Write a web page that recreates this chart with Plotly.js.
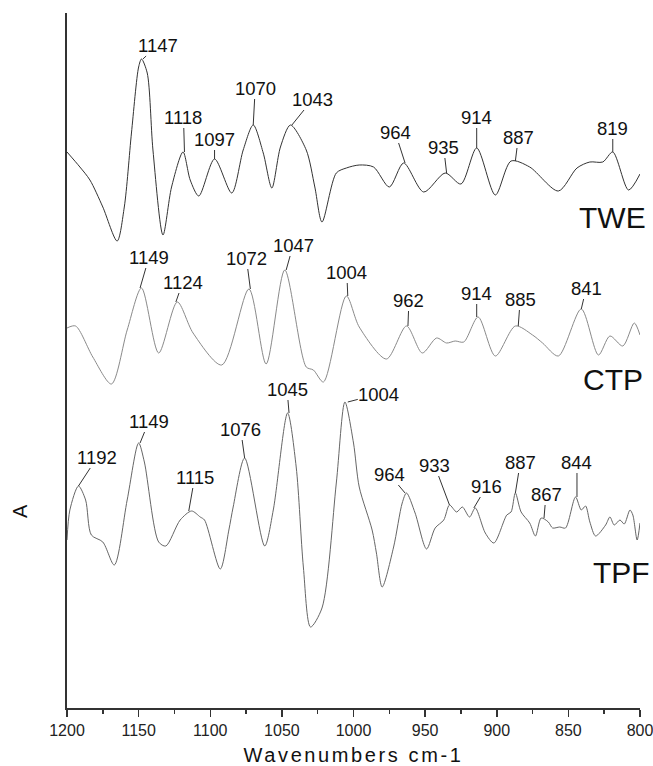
<!DOCTYPE html>
<html>
<head>
<meta charset="utf-8">
<script src="https://cdn.plot.ly/plotly-3.0.1.min.js"></script>
<style>
html,body{margin:0;padding:0;background:#fff;}
#chart{width:653px;height:766px;}
#chart .xtitle{letter-spacing:2.6px;}
</style>
</head>
<body>
<div id="chart"></div>
<script>
// ---- data (wavenumber, relative absorbance incl. stacking offset) ----
const twe_x = [1200,1191,1184,1175,1165,1160,1155,1150,1148,1144,1140,1133,1127,1119,1114,1108,1097,1085,1077,1070,1063,1057,1051,1044,1033,1027,1022,1012,1005,996,986,975,965,951,936,925,914,901,890,877,857,844,835,826,819,808,800];
const twe_y = [556,541,528,501,467,501,575,641,649,635,558,473,521,556,528,512,549,515,558,583,555,520,561,583,558,521,486,535,540,543,541,521,545,516,535,524,560,513,547,541,517,540,546,546,556,518,534];

const ctp_x = [1200,1194,1182,1169,1158,1148,1136,1123,1112,1092,1073,1061,1048,1033,1028,1021,1005,996,977,963,952,942,935,929,923,913,901,887,875,868,857,841,829,821,812,804,800];
const ctp_y = [380,382,351,324,378,420,355,406,375,343,419,344,438,341,338,326,412,381,349,382,355,370,365,367,366,391,352,382,373,365,352,399,353,372,362,385,373];

const tpf_x = [1200,1198,1192,1187,1183,1175,1167,1158,1150,1146,1136,1131,1121,1113,1107,1104,1093,1087,1084,1076,1062,1056,1046,1040,1035,1030,1022,1012,1006,1000,996,987,984,980,972,966,963,957,949,943,937,933,928,924,919,915,908,902,893,890,887,883,877,873,869,864,861,856,852,845,841,838,835,831,824,821,818,814,811,807,805,802,800];
const tpf_y = [168,198,222,208,173,166,143,208,265,246,166,162,188,197,191,188,139,178,201,250,162,198,295,241,141,81,100,225,306,265,221,178,155,121,161,205,215,195,159,180,188,203,196,201,191,200,175,165,193,196,215,196,185,172,190,186,180,181,180,211,198,202,186,172,183,191,183,188,184,198,193,168,185];

const series_names = ["TWE","CTP","TPF"];

// peak labels (wavenumbers)
const twe_peaks = [1147,1118,1097,1070,1043,964,935,914,887,819];
const ctp_peaks = [1149,1124,1072,1047,1004,962,914,885,841];
const tpf_peaks = [1192,1149,1115,1076,1045,1004,964,933,916,887,867,844];

const x_ticks = [1200,1150,1100,1050,1000,950,900,850,800];

// ---- label offsets (pixels, layout only) ----
const twe_off = [[15,-14],[-1,-35],[0,-20],[2,-37],[21,-26],[-10,-31],[-3,-26],[0,-31],[3,-24],[0,-24]];
const ctp_off = [[9,-31],[7,-20],[-4,-31],[7,-25],[-1,-24],[1,-26],[0,-24],[2,-27],[5,-21]];
const tpf_off = [[19,-29],[9,-22],[6,-34],[-4,-29],[-2,-24],[31,-8],[-16,-19],[-15,-40],[13,-22],[5,-31],[2,-24],[0,-35]];

function nearestY(xs, ys, x){
  let bi = 0, bd = Infinity;
  for (let i=0;i<xs.length;i++){ const d=Math.abs(xs[i]-x); if(d<bd){bd=d;bi=i;} }
  return ys[bi];
}

const FONT = "Liberation Sans, Arial, Helvetica, sans-serif";
const annotations = [];
function addPeaks(xs, ys, peaks, offs){
  peaks.forEach((p,i)=>{
    annotations.push({
      x:p, y:nearestY(xs,ys,p), xref:'x', yref:'y',
      text:String(p), showarrow:true, arrowhead:0, arrowwidth:1, arrowcolor:'#333',
      ax:offs[i][0], ay:offs[i][1], standoff:0, startstandoff:0, borderpad:0,
      font:{family:FONT,size:18.5,color:'#111'}
    });
  });
}
addPeaks(twe_x,twe_y,twe_peaks,twe_off);
addPeaks(ctp_x,ctp_y,ctp_peaks,ctp_off);
addPeaks(tpf_x,tpf_y,tpf_peaks,tpf_off);

// series name labels
const namePos = [[0.952,0.706],[0.953,0.472],[0.968,0.195]];
series_names.forEach((n,i)=>{
  annotations.push({x:namePos[i][0], y:namePos[i][1], xref:'paper', yref:'paper',
    text:n, showarrow:false, xanchor:'center', yanchor:'middle',
    font:{family:FONT,size:30,color:'#111'}});
});
// y-axis title "A"
annotations.push({x:-0.082, y:0.2835, xref:'paper', yref:'paper', text:'A', showarrow:false,
  textangle:-90, xanchor:'center', yanchor:'middle', font:{family:FONT,size:20,color:'#111'}});

const traces = [
  {x:twe_x, y:twe_y, name:series_names[0], mode:'lines', line:{color:'#333', width:1, shape:'spline', smoothing:0.8}},
  {x:ctp_x, y:ctp_y, name:series_names[1], mode:'lines', line:{color:'#8a8a8a', width:1, shape:'spline', smoothing:0.8}},
  {x:tpf_x, y:tpf_y, name:series_names[2], mode:'lines', line:{color:'#666', width:1, shape:'spline', smoothing:0.8}}
];

const layout = {
  width:653, height:766,
  margin:{l:67, r:13, t:13, b:58},
  paper_bgcolor:'#fff', plot_bgcolor:'#fff',
  showlegend:false,
  xaxis:{
    range:[1200,800], autorange:false,
    tickvals:x_ticks, ticktext:x_ticks.map(String),
    ticks:'outside', ticklen:7, tickwidth:1.5, tickcolor:'#333',
    ticklabeloverflow:'allow',
    minor:{dtick:25, tick0:800, ticks:'outside', ticklen:4, tickwidth:1.5, tickcolor:'#333', showgrid:false},
    showline:true, linecolor:'#333', linewidth:2,
    showgrid:false, zeroline:false,
    tickfont:{family:FONT,size:16,color:'#222'},
    title:{text:'Wavenumbers cm-1', font:{family:FONT,size:20,color:'#111'}, standoff:15}
  },
  yaxis:{
    range:[0,695], autorange:false,
    showline:true, linecolor:'#333', linewidth:2,
    showticklabels:false, ticks:'', showgrid:false, zeroline:false
  },
  annotations:annotations
};

Plotly.newPlot('chart', traces, layout, {displayModeBar:false, staticPlot:true});
</script>
</body>
</html>
